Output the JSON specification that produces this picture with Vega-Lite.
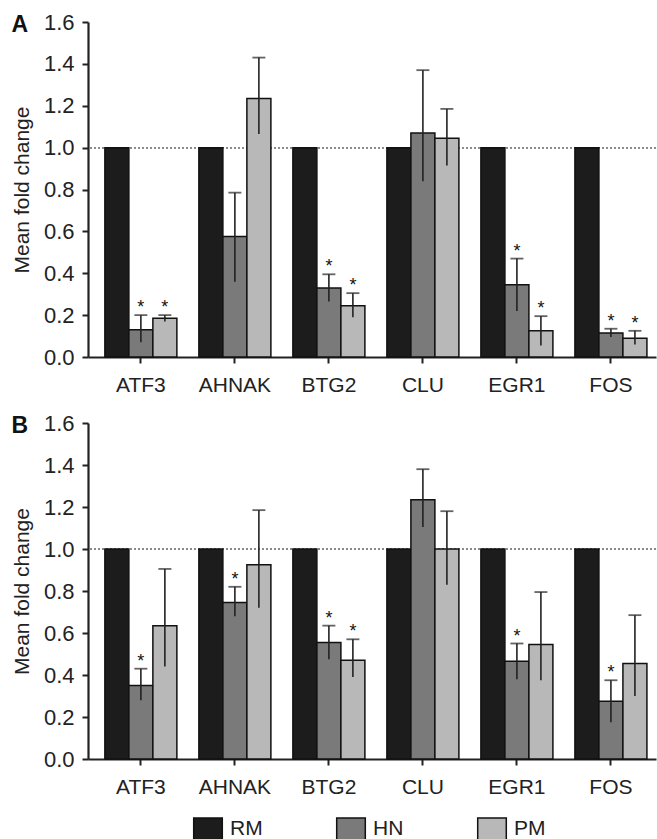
{
  "$schema": "https://vega.github.io/schema/vega-lite/v6.json",
  "padding": {"left": 11, "top": 11, "right": 0, "bottom": 0},
  "spacing": 17,
  "data": {
    "values": [
      {"panel": "A", "gene": "ATF3", "group": "RM", "value": 1},
      {"panel": "A", "gene": "ATF3", "group": "HN", "value": 0.13, "lo": 0.07, "hi": 0.2, "star": "*"},
      {"panel": "A", "gene": "ATF3", "group": "PM", "value": 0.185, "lo": 0.17, "hi": 0.2, "star": "*"},
      {"panel": "A", "gene": "AHNAK", "group": "RM", "value": 1},
      {"panel": "A", "gene": "AHNAK", "group": "HN", "value": 0.575, "lo": 0.36, "hi": 0.785},
      {"panel": "A", "gene": "AHNAK", "group": "PM", "value": 1.235, "lo": 1.065, "hi": 1.43},
      {"panel": "A", "gene": "BTG2", "group": "RM", "value": 1},
      {"panel": "A", "gene": "BTG2", "group": "HN", "value": 0.33, "lo": 0.265, "hi": 0.395, "star": "*"},
      {"panel": "A", "gene": "BTG2", "group": "PM", "value": 0.245, "lo": 0.19, "hi": 0.305, "star": "*"},
      {"panel": "A", "gene": "CLU", "group": "RM", "value": 1},
      {"panel": "A", "gene": "CLU", "group": "HN", "value": 1.07, "lo": 0.84, "hi": 1.37},
      {"panel": "A", "gene": "CLU", "group": "PM", "value": 1.045, "lo": 0.915, "hi": 1.185},
      {"panel": "A", "gene": "EGR1", "group": "RM", "value": 1},
      {"panel": "A", "gene": "EGR1", "group": "HN", "value": 0.345, "lo": 0.22, "hi": 0.47, "star": "*"},
      {"panel": "A", "gene": "EGR1", "group": "PM", "value": 0.125, "lo": 0.055, "hi": 0.195, "star": "*"},
      {"panel": "A", "gene": "FOS", "group": "RM", "value": 1},
      {"panel": "A", "gene": "FOS", "group": "HN", "value": 0.115, "lo": 0.095, "hi": 0.135, "star": "*"},
      {"panel": "A", "gene": "FOS", "group": "PM", "value": 0.09, "lo": 0.06, "hi": 0.125, "star": "*"},
      {"panel": "B", "gene": "ATF3", "group": "RM", "value": 1},
      {"panel": "B", "gene": "ATF3", "group": "HN", "value": 0.35, "lo": 0.28, "hi": 0.43, "star": "*"},
      {"panel": "B", "gene": "ATF3", "group": "PM", "value": 0.635, "lo": 0.44, "hi": 0.905},
      {"panel": "B", "gene": "AHNAK", "group": "RM", "value": 1},
      {"panel": "B", "gene": "AHNAK", "group": "HN", "value": 0.745, "lo": 0.68, "hi": 0.82, "star": "*"},
      {"panel": "B", "gene": "AHNAK", "group": "PM", "value": 0.925, "lo": 0.72, "hi": 1.185},
      {"panel": "B", "gene": "BTG2", "group": "RM", "value": 1},
      {"panel": "B", "gene": "BTG2", "group": "HN", "value": 0.555, "lo": 0.475, "hi": 0.635, "star": "*"},
      {"panel": "B", "gene": "BTG2", "group": "PM", "value": 0.47, "lo": 0.39, "hi": 0.57, "star": "*"},
      {"panel": "B", "gene": "CLU", "group": "RM", "value": 1},
      {"panel": "B", "gene": "CLU", "group": "HN", "value": 1.235, "lo": 1.105, "hi": 1.38},
      {"panel": "B", "gene": "CLU", "group": "PM", "value": 1.0, "lo": 0.83, "hi": 1.18},
      {"panel": "B", "gene": "EGR1", "group": "RM", "value": 1},
      {"panel": "B", "gene": "EGR1", "group": "HN", "value": 0.465, "lo": 0.38, "hi": 0.55, "star": "*"},
      {"panel": "B", "gene": "EGR1", "group": "PM", "value": 0.545, "lo": 0.375, "hi": 0.795},
      {"panel": "B", "gene": "FOS", "group": "RM", "value": 1},
      {"panel": "B", "gene": "FOS", "group": "HN", "value": 0.275, "lo": 0.175, "hi": 0.375, "star": "*"},
      {"panel": "B", "gene": "FOS", "group": "PM", "value": 0.455, "lo": 0.3, "hi": 0.685}
    ]
  },
  "vconcat": [
    {
      "width": 568,
      "height": 335,
      "title": {"text": "A", "anchor": "start", "frame": "bounds", "fontSize": 23, "fontWeight": "bold", "offset": -26, "dx": 0},
      "transform": [{"filter": "datum.panel == 'A'"}],
      "encoding": {
        "x": {"field": "gene", "type": "nominal", "sort": ["ATF3", "AHNAK", "BTG2", "CLU", "EGR1", "FOS"],
              "scale": {"paddingInner": 0.234, "paddingOuter": 0.138, "align": 0.65}},
        "xOffset": {"field": "group", "type": "nominal", "sort": ["RM", "HN", "PM"]}
      },
      "layer": [
        {"mark": {"type": "rule", "color": "#8a8a8a", "strokeDash": [2, 2], "strokeWidth": 1},
         "encoding": {"y": {"datum": 1}, "x": null, "xOffset": null}},
        {"mark": {"type": "bar", "stroke": "#111", "strokeWidth": 1.5},
         "encoding": {
           "y": {"field": "value", "type": "quantitative", "title": "Mean fold change",
                 "scale": {"domain": [0, 1.6], "nice": false}},
           "fill": {"field": "group", "type": "nominal", "title": null,
                    "scale": {"domain": ["RM", "HN", "PM"], "range": ["#1c1c1c", "#7a7a7a", "#b8b8b8"]}}
         }},
        {"transform": [{"filter": "datum.hi != null"}],
         "mark": {"type": "rule", "color": "#222", "strokeWidth": 1.6},
         "encoding": {"y": {"field": "lo", "type": "quantitative"}, "y2": {"field": "hi"}}},
        {"transform": [{"filter": "datum.hi != null"}],
         "mark": {"type": "tick", "orient": "horizontal", "color": "#222", "thickness": 1.8, "size": 13},
         "encoding": {"y": {"field": "hi", "type": "quantitative"}}},
        {"transform": [{"filter": "datum.star != null"}],
         "mark": {"type": "text", "fontSize": 18, "dy": -2, "baseline": "alphabetic", "color": "#111"},
         "encoding": {"y": {"field": "hi", "type": "quantitative"}, "text": {"field": "star"}}}
      ]
    },
    {
      "width": 568,
      "height": 336,
      "title": {"text": "B", "anchor": "start", "frame": "bounds", "fontSize": 23, "fontWeight": "bold", "offset": -26, "dx": 0},
      "transform": [{"filter": "datum.panel == 'B'"}],
      "encoding": {
        "x": {"field": "gene", "type": "nominal", "sort": ["ATF3", "AHNAK", "BTG2", "CLU", "EGR1", "FOS"],
              "scale": {"paddingInner": 0.234, "paddingOuter": 0.138, "align": 0.65}},
        "xOffset": {"field": "group", "type": "nominal", "sort": ["RM", "HN", "PM"]}
      },
      "layer": [
        {"mark": {"type": "rule", "color": "#8a8a8a", "strokeDash": [2, 2], "strokeWidth": 1},
         "encoding": {"y": {"datum": 1}, "x": null, "xOffset": null}},
        {"mark": {"type": "bar", "stroke": "#111", "strokeWidth": 1.5},
         "encoding": {
           "y": {"field": "value", "type": "quantitative", "title": "Mean fold change",
                 "scale": {"domain": [0, 1.6], "nice": false}},
           "fill": {"field": "group", "type": "nominal", "title": null,
                    "scale": {"domain": ["RM", "HN", "PM"], "range": ["#1c1c1c", "#7a7a7a", "#b8b8b8"]},
                    "legend": {"orient": "none", "direction": "horizontal", "legendX": 108, "legendY": 795,
                               "columns": 3, "columnPadding": 70, "symbolType": "M-1.3,-1H1.3V1H-1.3Z",
                               "symbolSize": 484, "symbolStrokeColor": "#111", "symbolStrokeWidth": 1.5,
                               "labelFontSize": 21, "labelOffset": 10, "labelColor": "#222"}}
         }},
        {"transform": [{"filter": "datum.hi != null"}],
         "mark": {"type": "rule", "color": "#222", "strokeWidth": 1.6},
         "encoding": {"y": {"field": "lo", "type": "quantitative"}, "y2": {"field": "hi"}}},
        {"transform": [{"filter": "datum.hi != null"}],
         "mark": {"type": "tick", "orient": "horizontal", "color": "#222", "thickness": 1.8, "size": 13},
         "encoding": {"y": {"field": "hi", "type": "quantitative"}}},
        {"transform": [{"filter": "datum.star != null"}],
         "mark": {"type": "text", "fontSize": 18, "dy": -2, "baseline": "alphabetic", "color": "#111"},
         "encoding": {"y": {"field": "hi", "type": "quantitative"}, "text": {"field": "star"}}}
      ]
    }
  ],
  "config": {
    "font": "Liberation Sans",
    "view": {"stroke": null},
    "title": {"color": "#111"},
    "axis": {"domainColor": "#222", "domainWidth": 2.2, "tickColor": "#222", "tickWidth": 2, "tickSize": 6,
             "labelColor": "#222", "labelFontSize": 21, "titleColor": "#222", "titleFontSize": 21,
             "titleFontWeight": "normal", "grid": false},
    "axisX": {"title": null, "labelAngle": 0, "labelPadding": 11},
    "axisY": {"values": [0, 0.2, 0.4, 0.6, 0.8, 1.0, 1.2, 1.4, 1.6], "format": ".1f",
              "labelFontSize": 22, "labelPadding": 8, "titlePadding": 11}
  }
}
